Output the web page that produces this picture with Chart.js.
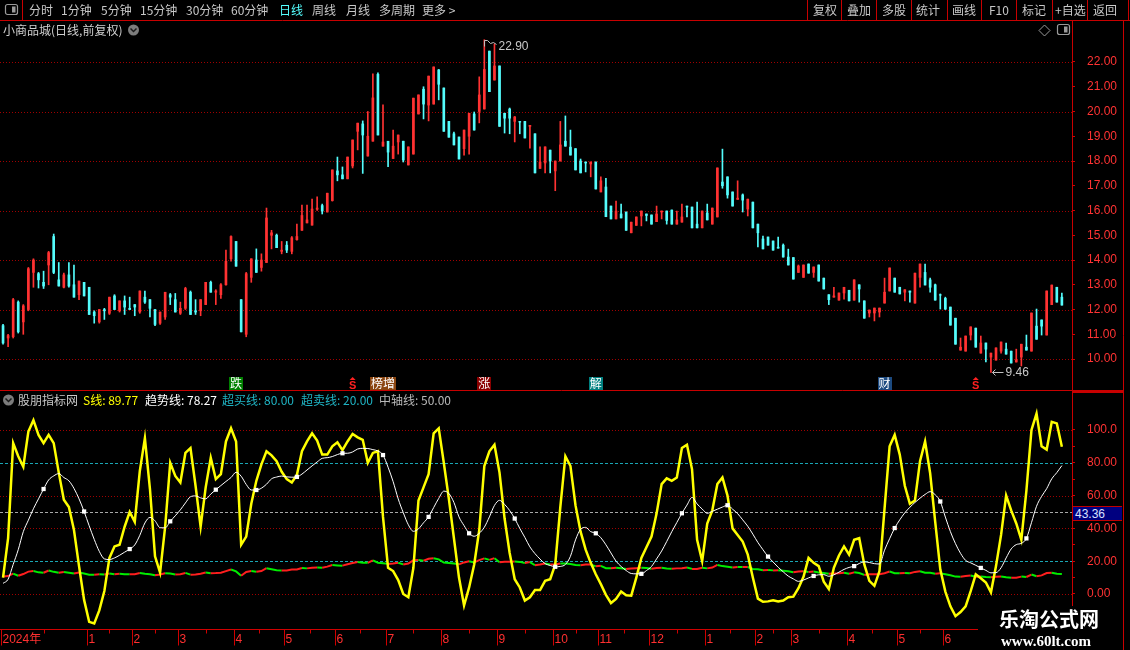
<!DOCTYPE html>
<html><head><meta charset="utf-8"><title>小商品城</title>
<script src="https://cdn.jsdelivr.net/npm/chart.js@4.4.1/dist/chart.umd.min.js"></script>
<style>
html,body{margin:0;padding:0;background:#000;}
#root{position:relative;width:1130px;height:650px;overflow:hidden;background:#000;font-family:"Noto Sans CJK SC","Noto Sans",sans-serif;}
.t{position:absolute;white-space:nowrap;font-size:12px;line-height:14px;color:#c8c8c8;}
#root canvas{position:absolute;left:0;}
#wm{position:absolute;left:978px;top:606px;width:145px;height:44px;background:#000;}
#cursorBox{position:absolute;left:1073px;top:506px;width:49px;height:15px;background:#000080;border-top:1px solid #c00000;border-bottom:1px solid #c00000;color:#d8e0ff;font:12px "Liberation Sans";line-height:14px;text-align:left;padding-left:2px;box-sizing:border-box;}
</style></head><body>
<div id="root">
 <canvas id="frame" width="1130" height="650" style="top:0"></canvas>
 <canvas id="priceChart" width="1123" height="354" style="top:36px"></canvas>
 <canvas id="indChart" width="1123" height="243" style="top:407px"></canvas>
 <div id="texts"></div>
 <div id="cursorBox"></div>
 <div id="wm">
   <div style="position:absolute;left:21px;top:1px;font:bold 20px 'Noto Sans CJK SC';color:#fff;line-height:24px">乐淘公式网</div>
   <div style="position:absolute;left:23px;top:27px;font:bold 15px 'Liberation Serif';color:#fff;line-height:16px">www.60lt.com</div>
 </div>
</div>
<script>
// ---------------- DATA ----------------
const monthLabels = ['2024年','1','2','3','4','5','6','7','8','9','10','11','12','1','2','3','4','5','6'];
const monthStart = [-0.5,16.5,25.5,34.5,45.5,55.5,65.5,75.5,86.5,97.5,108.5,117.5,127.5,138.5,148.5,155.5,166.5,176.5,185.5];
const priceTicks = [10,11,12,13,14,15,16,17,18,19,20,21,22];
const priceGrid = [10,12,14,16,18,20,22];
const indTicks = [0,10,20,30,40,50,60,70,80,90,100];
const indDotted = [0,40,60,100];
const OVERBOUGHT = 80, OVERSOLD = 20, MIDLINE = 50;
const cursorValue = 43.36;

const open = [
11.35,10.85,10.90,12.30,11.50,12.00,13.50,13.45,13.10,13.80,
14.95,13.20,12.90,13.40,13.00,12.60,13.10,12.90,11.90,11.50,
12.00,11.85,12.55,11.95,12.35,12.05,12.20,11.90,12.50,12.40,
12.00,11.45,11.70,12.60,12.40,11.85,12.05,12.70,11.95,11.95,
12.20,13.10,12.70,12.60,13.00,14.05,14.75,12.40,11.00,13.30,
14.00,13.70,13.90,15.00,15.00,14.35,14.60,14.35,14.82,15.20,
15.50,15.41,16.05,16.20,15.94,16.40,17.60,17.44,17.28,17.80,
19.20,19.50,18.20,18.80,21.50,18.60,18.80,18.10,18.77,18.80,
17.84,18.28,19.90,20.90,20.26,20.30,21.68,20.95,19.60,19.10,
18.97,18.50,19.00,19.90,20.00,20.10,22.44,21.27,21.84,19.93,
20.10,19.60,19.60,19.60,19.40,19.10,17.70,17.92,18.44,17.60,
18.00,18.80,18.56,18.50,18.00,17.96,17.88,17.96,16.75,16.95,
16.18,15.66,15.86,15.94,15.10,15.40,15.78,15.86,15.82,15.55,
15.94,15.98,16.02,15.45,15.53,16.18,16.14,15.45,15.30,15.90,
15.45,15.74,17.15,17.36,16.75,16.45,16.63,16.06,16.34,15.45,
14.85,14.93,14.77,14.52,14.60,14.12,14.10,13.50,13.30,13.84,
13.50,13.80,13.27,12.60,12.50,12.38,12.67,12.78,12.38,13.00,
12.35,11.86,11.86,11.90,12.26,12.75,13.27,12.90,12.70,12.75,
12.26,13.30,13.50,13.20,13.00,12.60,12.45,12.10,11.65,10.36,
10.32,10.97,11.25,10.24,10.65,10.08,9.96,10.32,10.40,10.32,
9.88,10.08,10.48,10.32,11.33,11.58,10.97,12.20,12.90,12.50];
const high = [
11.40,11.00,12.45,12.35,12.20,13.70,14.05,13.50,13.55,14.35,
15.05,13.90,13.47,13.90,13.80,13.15,13.10,12.90,11.95,12.00,
12.05,12.50,12.60,12.35,12.55,12.50,12.20,12.75,12.75,12.40,
12.00,11.90,12.70,12.65,12.65,12.30,12.90,12.75,12.40,12.40,
13.10,13.15,12.80,13.05,14.40,14.98,14.75,12.40,13.50,14.05,
14.45,14.25,16.10,15.20,15.05,14.75,14.75,14.95,15.45,16.22,
16.22,16.46,16.55,16.26,16.70,17.64,18.16,17.76,18.16,18.85,
19.53,19.62,20.00,21.52,21.56,20.27,18.80,19.25,19.05,18.80,
18.57,20.54,20.67,21.00,21.43,21.80,21.70,20.95,19.60,19.17,
18.97,19.25,19.93,19.98,21.40,22.90,22.44,22.73,21.84,19.93,
20.14,19.80,19.60,19.60,19.44,19.10,18.57,18.57,18.44,18.00,
19.60,19.82,19.25,18.50,18.08,17.96,17.96,17.96,17.36,17.30,
16.18,16.38,16.26,15.94,15.53,15.74,15.98,15.86,15.82,16.18,
15.98,15.98,16.02,15.98,16.26,16.18,16.14,16.34,15.98,16.26,
16.10,17.72,18.48,17.36,16.75,17.20,16.67,16.46,16.34,15.45,
14.97,14.93,14.77,14.93,14.65,14.44,14.10,13.80,13.80,13.84,
13.72,13.80,13.27,12.60,12.90,12.67,12.90,12.78,13.20,13.00,
12.35,11.98,12.06,12.06,13.27,13.68,13.27,12.90,12.80,12.75,
13.47,13.84,13.84,13.27,13.03,12.63,12.50,12.10,11.65,10.85,
10.93,11.30,11.25,10.93,10.65,10.24,10.45,10.69,10.65,10.32,
10.40,10.60,10.97,11.86,12.02,11.58,12.75,12.99,12.90,12.67];
const low = [
10.60,10.50,10.85,11.05,11.00,11.95,12.90,12.87,12.85,13.00,
13.45,12.95,12.87,12.90,12.50,12.40,12.55,11.80,11.45,11.45,
11.60,11.80,12.00,11.90,11.80,12.00,11.75,11.85,12.25,11.70,
11.35,11.40,11.60,12.20,11.90,11.80,12.00,11.80,11.80,11.75,
12.20,12.70,12.20,12.45,12.98,13.95,13.75,11.10,10.90,13.10,
13.50,13.55,13.90,14.45,14.50,14.25,14.30,14.25,14.80,15.20,
15.50,15.41,16.00,15.86,15.94,16.38,17.20,17.28,17.28,17.72,
18.45,17.50,18.20,18.80,19.05,18.60,17.77,18.10,18.28,17.96,
17.84,18.28,19.90,19.70,19.62,20.30,20.47,19.20,18.96,18.65,
18.08,18.24,18.28,19.25,19.54,20.10,20.80,21.27,19.40,19.13,
19.10,18.77,19.10,18.93,18.52,17.52,17.70,17.52,17.52,16.80,
18.00,18.60,18.24,17.64,17.52,17.56,17.36,16.87,16.75,15.75,
15.66,15.66,15.70,15.20,15.10,15.40,15.38,15.58,15.45,15.55,
15.66,15.45,15.45,15.45,15.53,15.74,15.30,15.30,15.30,15.62,
15.45,15.74,16.90,16.50,16.18,16.45,15.94,15.78,15.30,14.53,
14.45,14.60,14.40,14.48,14.12,13.80,13.23,13.50,13.30,13.47,
13.30,13.15,12.83,12.20,12.50,12.38,12.42,12.35,12.38,12.30,
11.65,11.70,11.54,11.70,12.26,12.75,12.70,12.63,12.35,12.30,
12.26,12.90,12.99,12.70,12.38,12.02,12.00,11.37,10.60,10.36,
10.32,10.77,10.48,10.24,9.88,9.46,9.96,10.24,10.20,9.84,
9.88,9.72,10.36,10.32,10.80,10.97,10.97,12.20,12.30,12.18];
const close = [
10.65,10.95,12.40,11.10,12.15,13.65,14.00,13.20,12.95,14.30,
13.50,12.95,13.40,12.95,12.50,13.15,12.55,11.80,11.75,12.00,
11.95,12.50,12.00,12.35,12.10,12.00,12.10,12.75,12.30,12.05,
11.40,11.90,12.70,12.50,11.90,12.05,12.85,11.80,11.90,12.40,
13.10,12.70,12.75,13.00,13.95,14.95,13.75,11.10,13.45,14.05,
13.50,14.00,15.70,15.10,14.50,14.40,14.40,14.90,14.95,15.80,
15.62,16.06,16.10,15.98,16.70,17.64,17.44,17.28,18.16,18.85,
19.53,19.05,19.00,20.55,19.05,18.77,18.36,18.60,19.05,18.04,
18.57,20.54,20.67,20.30,21.43,21.80,21.10,19.20,18.96,18.65,
18.08,19.25,19.93,19.25,20.67,21.70,20.80,21.84,19.40,19.73,
19.73,19.78,19.57,18.93,19.44,17.52,17.96,18.57,18.00,18.00,
18.65,18.60,18.24,17.64,17.52,17.92,17.96,16.87,17.20,15.75,
15.66,15.98,15.70,15.20,15.53,15.74,15.98,15.80,15.45,15.86,
15.98,15.60,15.45,15.62,15.74,16.14,15.30,15.30,15.98,15.62,
16.10,17.72,17.00,16.63,16.18,16.50,16.42,16.46,15.30,15.10,
14.45,14.60,14.40,14.48,14.12,13.80,13.23,13.76,13.80,13.47,
13.72,13.15,12.83,12.40,12.55,12.67,12.90,12.35,13.20,12.83,
11.65,11.98,12.06,12.06,12.70,13.68,12.70,12.63,12.80,12.70,
13.47,13.84,12.99,12.90,12.38,12.58,12.02,11.37,10.60,10.48,
10.93,11.30,10.48,10.65,10.40,10.24,10.45,10.69,10.20,9.84,
9.96,10.60,10.36,11.86,10.80,11.33,12.75,12.99,12.30,12.18];

const sLine = [
10,34,92,84,77.6,99,106,97,92,97,
92,74,57.5,53,39,17,-3.6,-17,-18,-10,
1.8,22,29,30,41,50,44,75,95,64,
23,13,41,80,72,68,86,89,66,41,
65,83,70,73,93,101,93,30,35,55,
69,79,87,84.5,81,74.5,70,68,72.5,87,
93,98,93.5,85,85,90,92.5,87.7,93,97.6,
95.5,94,80,86,87,47,16,14,8.5,0,
-2,16,57,65,73,98,101,80,58,34,
10,-7,4,18,39,78,87,91,74,46,
25,9,4,-4,-2,2.4,2.4,8,9,18,
53,84,78,54,38,27,19,12,6,-0.5,
-5.5,-3,1.5,-0.8,-1,10,22,28.5,35,49,
67,70.5,69,71,89,91,76,33,20,43,
51,67,71,60,40,36,32,24,10,-2.8,
-4.7,-4.5,-3.8,-4.6,-4,-2,-1.6,3.5,10.5,22,
19,17,7.5,3,16,23.5,29,24,33,34,
18,8,5,14,52,90,97,85,66,55,
57,81,93,73.6,44,15,1.5,-7.5,-13.5,-11,
-7.5,1.7,12,9.6,7,1,17,36,60,51,
43,33,63,100,110,90,88,105,104,89.77];

const trendLine = [
6.5,9,18,27,38,45,52,58,64,69.5,
72,73.4,71,69,64.4,58,50.3,41.6,33.3,26,
21.4,21,22,23.6,25.5,27.4,29.9,35.8,43.3,46.7,
44.6,40.4,40.3,44.3,47.7,51.3,55.5,59.3,59.8,58.6,
58,60.9,63.6,66.1,68.6,71,74.2,71.8,66.8,63.4,
63.4,64.5,66.9,70.2,71.3,71.9,71.4,71.2,71.4,73.1,
75.6,78.1,80.5,82.7,83.1,83.8,85,85.8,85.8,86.6,
88.4,88.8,88.7,88,87.2,84.7,77.3,68.5,58,49.6,
42.2,38.2,39.7,43.4,47,52.7,58.3,62.7,61.3,55.8,
47,41.7,37,35.2,37,40.7,47,54,57.1,54.6,
50.9,46,40,34.5,28.7,24.6,21.3,18.5,17.4,16.6,
16.8,18,23,33,39.4,40.6,38,37,34.3,30,
25,20,16.8,14.3,12.5,12.3,12.3,14.3,16.8,21.4,
26.2,32,38,43.6,49.2,54.2,58.9,54.9,51.8,49.2,
50.4,51.7,53,54.1,51.7,49,45.2,41.3,36.5,31.4,
27,22.8,19.5,16.3,13.5,10.9,9.2,7.7,8.5,9.8,
11,11.7,11.8,10.8,11.7,13.3,15,16.2,17,18.6,
19.6,19.2,18.5,18.3,26.7,33.7,40.2,45.2,49.5,52.9,
55.8,58.4,60.7,62.4,60.5,56.4,46.9,38,30.7,24.8,
20.5,19,17.5,15.9,14.4,12.9,13,16,22,27.5,
30.1,30.9,33.9,43.5,53.5,59.5,64.2,70.2,74,78.27];

const trendMarks = [8,16,25,33,42,50,58,67,75,84,92,101,109,117,126,134,143,151,160,168,176,185,193,202];

const signalSlots = [46,69,75,95,117,174,192];
const signalTexts = ['跌','S','榜增','涨','解','财','S'];
const signalBg = ['#008000',null,'#8a4510','#8b0000','#008080','#1c4a80',null];

// ---------------- LAYOUT / STYLE ----------------
const X_MIN = -0.6, X_MAX = 211.0;
const UP = '#ff3232', DOWN = '#54fcfc', FLAT = '#ffffff';
const AXIS_RED = '#ff3333';
Chart.defaults.font.family = "'Liberation Sans','Noto Sans CJK SC',sans-serif";
Chart.defaults.font.size = 12;

// frame
const fc = document.getElementById('frame').getContext('2d');
fc.strokeStyle = '#c80000'; fc.lineWidth = 1;
const seg = (x0,y0,x1,y1)=>{fc.beginPath();fc.moveTo(x0,y0);fc.lineTo(x1,y1);fc.stroke();};
seg(0,20.5,1130,20.5);
seg(22.5,0,22.5,20);
[807,841,876,911,947,981,1016,1052,1087,1128].forEach(x=>seg(x+.5,0,x+.5,20));
seg(1072.5,21,1072.5,650);
seg(1123.5,21,1123.5,650);
seg(0,390.5,1123,390.5);
fc.lineWidth = 2; seg(1072,392,1123,392); fc.lineWidth = 1;
function boxIcon(x,y){
  fc.strokeStyle='#9a9a9a'; fc.lineWidth=1.2;
  fc.beginPath(); fc.roundRect(x+0.5,y+0.5,12,10,2); fc.stroke();
  fc.fillStyle='#9a9a9a'; fc.fillRect(x+7,y+2.5,3.5,6);
}
boxIcon(5,4); boxIcon(1057,24);
fc.strokeStyle='#9a9a9a'; fc.lineWidth=1;
fc.beginPath(); fc.moveTo(1044.5,25);fc.lineTo(1050,30.5);fc.lineTo(1044.5,36);fc.lineTo(1039,30.5);fc.closePath();fc.stroke();
function chevron(cx,cy){
  fc.fillStyle='#7c7c7c'; fc.beginPath(); fc.arc(cx,cy,5.5,0,Math.PI*2); fc.fill();
  fc.strokeStyle='#1a1a1a'; fc.lineWidth=1.5; fc.beginPath(); fc.moveTo(cx-3,cy-1.5); fc.lineTo(cx,cy+1.5); fc.lineTo(cx+3,cy-1.5); fc.stroke();
}
chevron(133.5,30); chevron(8.5,400);

// texts
const tw = document.getElementById('texts');
function addText(s,left,top,color){
  const d=document.createElement('div'); d.className='t'; d.textContent=s;
  d.style.left=left+'px'; d.style.top=top+'px'; if(color) d.style.color=color;
  tw.appendChild(d); return d;
}
[['分时',29],['1分钟',61],['5分钟',101],['15分钟',140],['30分钟',186],['60分钟',231],['日线',279],['周线',312],['月线',346],['多周期',379],['更多 >',422]]
 .forEach(([s,x])=>addText(s,x,3,s==='日线'?'#54ffff':'#c8c8c8'));
[['复权',813],['叠加',847],['多股',882],['统计',916],['画线',952],['F10',989],['标记',1022],['+自选',1055],['返回',1093]]
 .forEach(([s,x])=>addText(s,x,3,'#c8c8c8'));
addText('小商品城(日线,前复权)',3,23,'#d0d0d0');
const last = a => a[a.length-1];
addText('股朋指标网',18,393,'#c8c8c8');
addText('S线: '+last(sLine).toFixed(2),83,393,'#ffff00');
addText('趋势线: '+last(trendLine).toFixed(2),145,393,'#ffffff');
addText('超买线: '+OVERBOUGHT.toFixed(2),222,393,'#1fb4c4');
addText('超卖线: '+OVERSOLD.toFixed(2),301,393,'#1fb4c4');
addText('中轴线: '+MIDLINE.toFixed(2),379,393,'#b8b8b8');
document.getElementById('cursorBox').textContent = cursorValue.toFixed(2);

// ---------------- PRICE CHART ----------------
const candleColors = close.map((c,i)=> c>open[i]?UP:(c<open[i]?DOWN:FLAT));
const wickData = high.map((h,i)=>({x:i, y:[low[i], h]}));
const bodyData = open.map((o,i)=>({x:i, y:[o, close[i]]}));

function hLine(ctx, area, py, color, dash){
  ctx.save(); ctx.strokeStyle=color; ctx.lineWidth=1; ctx.setLineDash(dash);
  const y=Math.round(py)+0.5; ctx.beginPath(); ctx.moveTo(area.left,y); ctx.lineTo(area.right,y); ctx.stroke(); ctx.restore();
}
function fixAxis(s){ s.width = 51; s.paddingTop = 0; s.paddingBottom = 0; }

const priceOverlay = {
  id:'priceOverlay',
  beforeDatasetsDraw(chart){
    const {ctx, chartArea:a, scales:{y}} = chart;
    priceGrid.forEach(v=>hLine(ctx,a,y.getPixelForValue(v),'#a00000',[1,2]));
  },
  afterDatasetsDraw(chart){
    const {ctx, chartArea:a, scales:{x,y}} = chart;
    ctx.save();
    const hi = Math.max(...high), hiIdx = high.indexOf(hi);
    let px = Math.round(x.getPixelForValue(hiIdx))+0.5, py = Math.round(y.getPixelForValue(hi))+0.5;
    ctx.strokeStyle='#c0c0c0'; ctx.lineWidth=1;
    ctx.beginPath(); ctx.moveTo(px,py+6); ctx.lineTo(px,py); ctx.lineTo(px+3,py); ctx.lineTo(px+6,py+3); ctx.lineTo(px+9,py+2); ctx.lineTo(px+12,py+4); ctx.stroke();
    ctx.fillStyle='#c8c8c8'; ctx.font="12px 'Liberation Sans'"; ctx.textBaseline='middle'; ctx.textAlign='left';
    ctx.fillText(hi.toFixed(2), px+14, py+6);
    const lo = Math.min(...low), loIdx = low.indexOf(lo);
    px = Math.round(x.getPixelForValue(loIdx))+0.5; py = Math.round(y.getPixelForValue(lo))+0.5;
    ctx.beginPath(); ctx.moveTo(px+1,py); ctx.lineTo(px+12,py); ctx.moveTo(px+4,py-3); ctx.lineTo(px+1,py); ctx.lineTo(px+4,py+3); ctx.stroke();
    ctx.fillText(lo.toFixed(2), px+14, py);
    const top = a.bottom-13;
    signalSlots.forEach((s,k)=>{
      const cx = x.getPixelForValue(s);
      const txt = signalTexts[k];
      if(signalBg[k]){
        ctx.font="12px 'Noto Sans CJK SC'";
        const w = ctx.measureText(txt).width+2;
        ctx.fillStyle=signalBg[k]; ctx.fillRect(Math.round(cx-w/2), top, Math.round(w), 13);
        ctx.fillStyle='#ffffff'; ctx.textAlign='center'; ctx.textBaseline='middle';
        ctx.fillText(txt, cx, top+6.5);
      } else {
        ctx.fillStyle='#ff2020';
        ctx.beginPath(); ctx.moveTo(cx,top); ctx.lineTo(cx-3,top+3); ctx.lineTo(cx+3,top+3); ctx.closePath(); ctx.fill();
        ctx.font="bold 11px 'Liberation Sans'"; ctx.textAlign='center'; ctx.textBaseline='middle';
        ctx.fillText(txt, cx, top+8.5);
      }
    });
    ctx.restore();
  }
};

new Chart(document.getElementById('priceChart'), {
  type:'bar',
  data:{datasets:[
    {data:wickData, backgroundColor:candleColors, barThickness:1, grouped:false, borderWidth:0, order:2},
    {data:bodyData, backgroundColor:candleColors, barThickness:2, grouped:false, borderWidth:0, order:1}
  ]},
  options:{
    responsive:false, animation:false, events:[],
    layout:{padding:0, autoPadding:false},
    plugins:{legend:{display:false}, tooltip:{enabled:false}},
    scales:{
      x:{type:'linear', min:X_MIN, max:X_MAX, display:false, offset:false},
      y:{position:'right', min:8.75, max:23.05,
         afterFit:fixAxis,
         afterBuildTicks:s=>{s.ticks=priceTicks.map(v=>({value:v}));},
         ticks:{color:AXIS_RED, padding:12, autoSkip:false, callback:v=>Number(v).toFixed(2), font:{size:12}},
         grid:{drawOnChartArea:false, tickLength:3, tickColor:'#d00000'},
         border:{display:false}}
    }
  },
  plugins:[priceOverlay]
});

// ---------------- INDICATOR CHART ----------------
const indOverlay = {
  id:'indOverlay',
  beforeDatasetsDraw(chart){
    const {ctx, chartArea:a, scales:{y}} = chart;
    indDotted.forEach(v=>hLine(ctx,a,y.getPixelForValue(v),'#a00000',[1,2]));
    [OVERBOUGHT,OVERSOLD].forEach(v=>hLine(ctx,a,y.getPixelForValue(v),'#1aa6b4',[3,2]));
    hLine(ctx,a,y.getPixelForValue(MIDLINE),'#a8a8a8',[3,2]);
  },
  afterDraw(chart){
    const {ctx, chartArea:a, scales:{x}} = chart;
    const y0 = a.bottom+1.5;
    ctx.save();
    ctx.strokeStyle='#d00000'; ctx.lineWidth=1;
    ctx.beginPath(); ctx.moveTo(0,y0); ctx.lineTo(a.right,y0); ctx.stroke();
    ctx.fillStyle='#ff3030'; ctx.font="12px 'Liberation Sans','Noto Sans CJK SC'"; ctx.textBaseline='middle'; ctx.textAlign='left';
    monthStart.forEach((s,k)=>{
      const px = Math.max(0.5, Math.round(x.getPixelForValue(s))+0.5);
      ctx.beginPath(); ctx.moveTo(px,y0); ctx.lineTo(px,y0+16); ctx.stroke();
      ctx.fillText(monthLabels[k], px+1, y0+10);
      const nxt = k<monthStart.length-1 ? monthStart[k+1] : s+20;
      const m = Math.round(x.getPixelForValue((s+nxt)/2))+0.5;
      if (m < a.right){ ctx.beginPath(); ctx.moveTo(m,y0); ctx.lineTo(m,y0+4); ctx.stroke(); }
    });
    ctx.restore();
  }
};

new Chart(document.getElementById('indChart'), {
  type:'line',
  data:{datasets:[
    {data:close.map((v,i)=>({x:i,y:v})), borderColor:'#ff1e1e', borderWidth:2, pointRadius:0,
     segment:{borderColor:c=> c.p1.parsed.y>=c.p0.parsed.y ? '#ff1e1e' : '#00ee00'}, order:3},
    {data:sLine.map((v,i)=>({x:i,y:v})), borderColor:'#ffff00', borderWidth:2.5, pointRadius:0, order:2},
    {data:trendLine.map((v,i)=>({x:i,y:v})), borderColor:'#ffffff', borderWidth:1, cubicInterpolationMode:'monotone',
     pointStyle:'rect', pointRadius:ctx=> trendMarks.includes(ctx.dataIndex)?3:0,
     pointBackgroundColor:'#ffffff', pointBorderColor:'#ffffff', pointBorderWidth:0, order:1}
  ]},
  options:{
    responsive:false, animation:false, events:[],
    layout:{padding:{top:0,left:0,right:0,bottom:22}, autoPadding:false},
    plugins:{legend:{display:false}, tooltip:{enabled:false}},
    scales:{
      x:{type:'linear', min:X_MIN, max:X_MAX, display:false},
      y:{position:'right', min:-20.73, max:114.0,
         afterFit:fixAxis,
         afterBuildTicks:s=>{s.ticks=indTicks.map(v=>({value:v}));},
         ticks:{color:AXIS_RED, padding:12, autoSkip:false, font:{size:12},
                callback:v=> v%20!==0 ? '' : (v===100 ? '100.0' : Number(v).toFixed(2))},
         grid:{drawOnChartArea:false, tickLength:3, tickColor:'#d00000'},
         border:{display:false}}
    }
  },
  plugins:[indOverlay]
});
</script>
</body></html>
